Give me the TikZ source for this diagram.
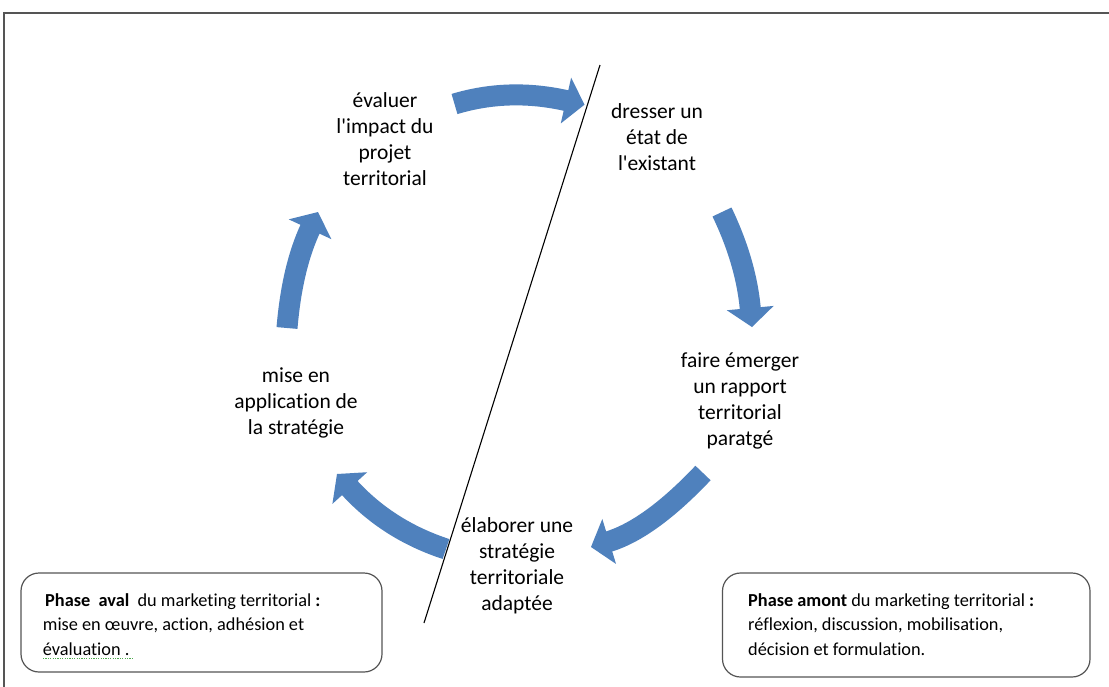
\documentclass[tikz,border=0pt]{standalone}
\usepackage{fontspec}
\setmainfont{Carlito}[Ligatures={TeXOff,CommonOff}]
\usetikzlibrary{calc}
\definecolor{arrowblue}{RGB}{79,129,189}
\definecolor{framegray}{RGB}{85,85,85}
\definecolor{squiggle}{RGB}{80,170,80}
\tikzset{
  shaft/.style={draw=arrowblue, line width=21pt},
  head/.style={fill=arrowblue},
  steplabel/.style={align=center, inner sep=0pt, font=\fontsize{21.5}{26}\selectfont},
  phasebox/.style={draw=framegray, line width=1.2pt, rounded corners=18pt},
  phasetext/.style={align=left, inner sep=0pt, anchor=north west, font=\fontsize{18.3}{24.5}\selectfont},
}
\newcommand\cyclearrow[4]{%
  \coordinate (#1s) at #2;
  \coordinate (#1c) at #3;
  \coordinate (#1t) at #4;
  \coordinate (#1b) at ($(#1t)!19pt!(#1c)$);
  \coordinate (#1e) at ($(#1t)!18pt!(#1c)$);
  \draw[shaft] (#1s) .. controls ($(#1s)!0.6667!(#1c)$) and ($(#1e)!0.6667!(#1c)$) .. (#1e);
  \fill[head] ($(#1b)!23.5pt!90:(#1t)$) -- (#1t) -- ($(#1b)!23.5pt!-90:(#1t)$) -- cycle;
}
\begin{document}
\begin{tikzpicture}[x=1pt,y=-1pt]
\useasboundingbox (0,0) rectangle (1109,686);
\fill[white] (0,0) rectangle (1109,686);
% frame
\draw[framegray, line width=1.5pt] (4,692) -- (4,13) -- (1115,13);
% arrows
\cyclearrow{aone}{(454.5,104)}{(509,87.6)}{(584.5,104.7)}
\cyclearrow{atwo}{(722,212)}{(746,262)}{(752,327)}
\cyclearrow{athree}{(703,473)}{(650,529)}{(591,547)}
\cyclearrow{afour}{(446,549)}{(388,530)}{(337,474)}
\cyclearrow{afive}{(287,328)}{(292,268)}{(318,212)}
% divider
\coordinate (divtop) at (600,65);
\coordinate (divbot) at (424,623);
\draw[line width=1.1pt] (divtop) -- (divbot);
% step labels
\node[steplabel] (eval) at (385,139.5) {évaluer\\l'impact du\\projet\\territorial};
\node[steplabel] (etat) at (657,137.5) {dresser un\\état de\\l'existant};
\node[steplabel] (rapport) at (740,401) {faire émerger\\un rapport\\territorial\\paratgé};
\node[steplabel] (strat) at (517,565.5) {élaborer une\\stratégie\\territoriale\\adaptée};
\node[steplabel] (mise) at (296,403) {mise en\\application de\\la stratégie};
% phase boxes
\draw[phasebox] (21,573) rectangle (382,672);
\draw[phasebox] (722.5,573) rectangle (1090,677);
\node[phasetext] (aval) at (42.7,593) {\hspace*{2.3pt}\textbf{Phase\ \ aval}\ \ du marketing territorial \textbf{:}\\mise en œuvre, action, adhésion et\\évaluation .};
\node[phasetext] (amont) at (748,593) {\textbf{Phase amont} du marketing territorial \textbf{:}\\réflexion, discussion, mobilisation,\\décision et formulation.};
\coordinate (sqa) at (43,658.5);
\coordinate (sqb) at (133,658.5);
\draw[squiggle, line width=1.1pt, dash pattern=on 1.2pt off 1.2pt] (sqa) -- (sqb);
\end{tikzpicture}
\end{document}
